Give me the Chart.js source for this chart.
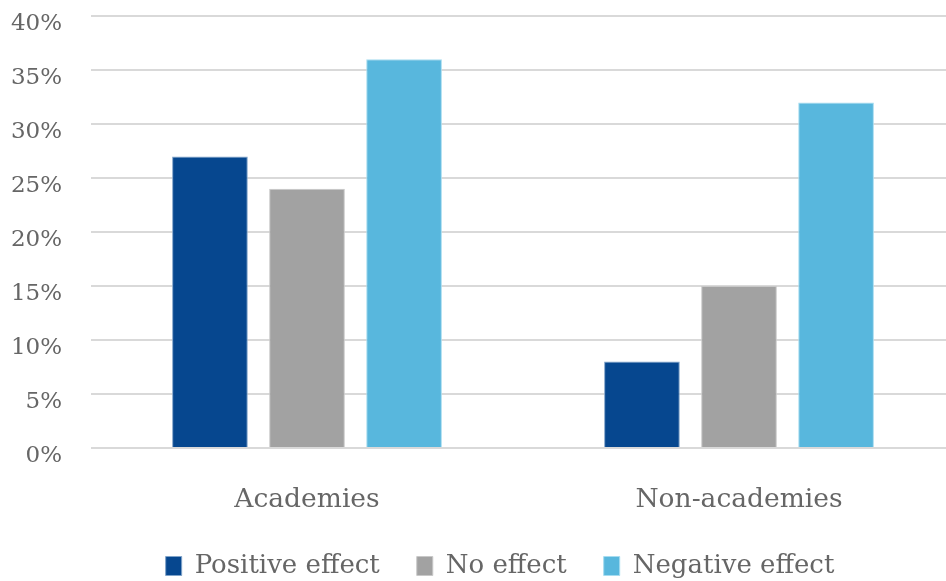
<!DOCTYPE html>
<html>
<head>
<meta charset="utf-8">
<script src="https://cdn.jsdelivr.net/npm/chart.js@4/dist/chart.umd.min.js"></script>
<style>
  html, body { margin: 0; padding: 0; background: #fff; overflow: hidden; }
  #wrap { position: relative; width: 955px; height: 589px; }
</style>
</head>
<body>
<div id="wrap"><canvas id="c"></canvas></div>
<script>
// Share of respondents by school type and perceived effect
const categories = ['Academies', 'Non-academies'];
const seriesNames = ['Positive effect', 'No effect', 'Negative effect'];
const positiveEffect = [27, 8];
const noEffect = [24, 15];
const negativeEffect = [36, 32];
const seriesColors = ['#06478f', '#a2a2a2', '#58b7dd'];
const seriesEdges = ['#7fa3c9', '#c8c8c8', '#a6dcf0'];

const FONT = "'DejaVu Serif', serif";
const TEXT = '#666666';

const values = [positiveEffect, noEffect, negativeEffect];

// The legend is centred with a left inset; let the y-axis labels use the full left margin.
const widenYAxis = {
  id: 'widenYAxis',
  afterLayout(chart) {
    chart.scales.y.left = 0;
  }
};

new Chart(document.getElementById('c'), {
  type: 'bar',
  data: {
    labels: categories,
    datasets: seriesNames.map((name, i) => ({
      label: name,
      data: values[i],
      backgroundColor: seriesColors[i],
      borderColor: seriesEdges[i],
      borderWidth: 1,
      categoryPercentage: 0.674,
      barPercentage: 0.78
    }))
  },
  plugins: [widenYAxis],
  options: {
    responsive: true,
    maintainAspectRatio: false,
    animation: false,
    layout: { padding: { top: 16, left: 45, right: 0, bottom: 0 } },
    plugins: {
      tooltip: { enabled: false },
      legend: {
        position: 'bottom',
        labels: {
          boxWidth: 16,
          boxHeight: 19,
          padding: 37,
          color: TEXT,
          font: { family: FONT, size: 26 }
        }
      }
    },
    scales: {
      x: {
        grid: { display: false },
        border: { display: false },
        ticks: { color: TEXT, font: { family: FONT, size: 26.5 }, padding: 28 },
        afterFit: s => { s.height = 68; }
      },
      y: {
        min: 0,
        max: 40,
        border: { display: false },
        grid: {
          color: '#d9d9d9',
          lineWidth: 2,
          drawTicks: true,
          tickLength: 29,
          tickColor: 'rgba(0,0,0,0)'
        },
        ticks: {
          stepSize: 5,
          padding: 0,
          labelOffset: 8,
          color: TEXT,
          font: { family: FONT, size: 23 },
          callback: v => v + '%'
        },
        afterFit: s => { s.width = 46; }
      }
    }
  }
});
</script>
</body>
</html>
